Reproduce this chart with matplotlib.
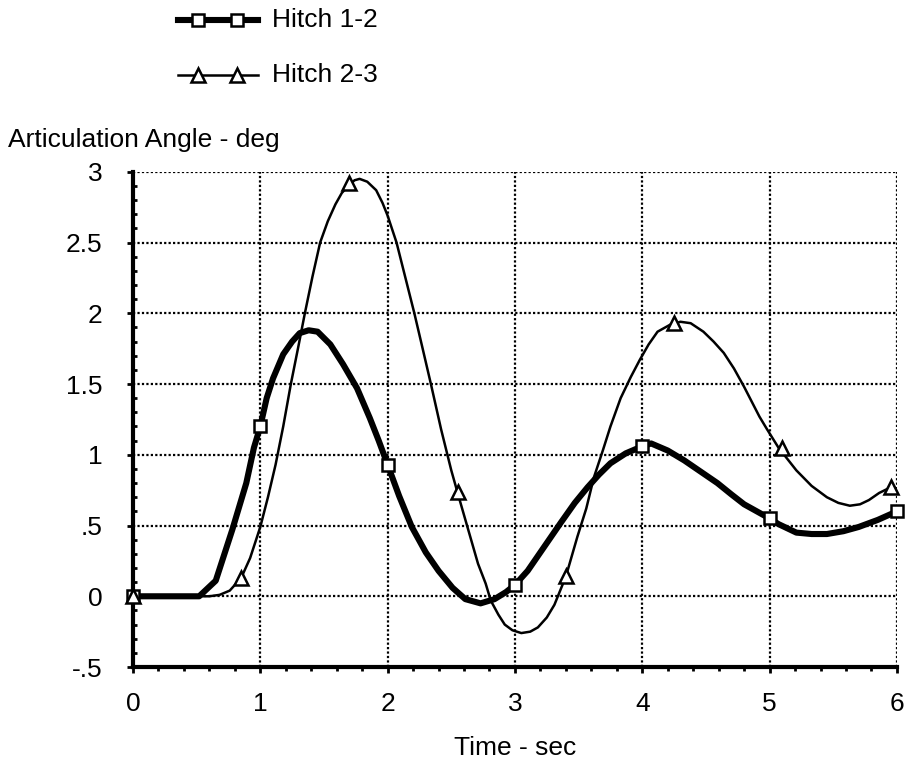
import matplotlib.pyplot as plt
from matplotlib.lines import Line2D
from matplotlib.ticker import MultipleLocator, FixedLocator, FixedFormatter

plt.rcParams['font.family'] = ['Liberation Sans', 'DejaVu Sans']

# Hitch 1-2: smooth response curve and the sampled marker points
t12 = [0, 0.2, 0.4, 0.52, 0.65, 0.78, 0.89, 0.95, 1.0, 1.05, 1.10, 1.18,
       1.25, 1.31, 1.38, 1.45, 1.55, 1.65, 1.76, 1.86, 1.93, 2.0, 2.09,
       2.19, 2.30, 2.40, 2.51, 2.61, 2.73, 2.84, 2.93, 3.0, 3.10, 3.23,
       3.36, 3.47, 3.57, 3.66, 3.75, 3.87, 4.0, 4.07, 4.20, 4.33, 4.46,
       4.59, 4.70, 4.80, 4.90, 5.0, 5.07, 5.21, 5.33, 5.45, 5.58, 5.70,
       5.85, 6.0]
a12 = [0, 0, 0, 0, 0.11, 0.47, 0.80, 1.05, 1.20, 1.40, 1.54, 1.71,
       1.80, 1.86, 1.88, 1.87, 1.78, 1.64, 1.47, 1.26, 1.10, 0.93, 0.71,
       0.49, 0.31, 0.18, 0.06, -0.02, -0.05, -0.02, 0.03, 0.08, 0.18, 0.35,
       0.52, 0.66, 0.77, 0.86, 0.94, 1.01, 1.06, 1.08, 1.03, 0.96, 0.88,
       0.80, 0.72, 0.65, 0.60, 0.55, 0.51, 0.45, 0.44, 0.44, 0.46, 0.49,
       0.54, 0.60]
t12_pts = [0, 1, 2, 3, 4, 5, 6]
a12_pts = [0, 1.2, 0.93, 0.08, 1.06, 0.55, 0.6]

# Hitch 2-3
t23 = [0, 0.3, 0.6, 0.68, 0.76, 0.85, 0.92, 1.0, 1.06, 1.12, 1.18, 1.24,
       1.30, 1.35, 1.41, 1.47, 1.53, 1.59, 1.64, 1.69, 1.74, 1.78, 1.84,
       1.91, 1.96, 2.0, 2.07, 2.14, 2.21, 2.27, 2.34, 2.42, 2.50, 2.55,
       2.63, 2.71, 2.77, 2.81, 2.87, 2.92, 2.98, 3.05, 3.12, 3.18, 3.25,
       3.31, 3.40, 3.49, 3.56, 3.62, 3.69, 3.75, 3.83, 3.91, 3.98, 4.05,
       4.12, 4.22, 4.30, 4.38, 4.48, 4.56, 4.64, 4.72, 4.80, 4.92, 4.98,
       5.07, 5.21, 5.33, 5.45, 5.54, 5.63, 5.71, 5.78, 5.86, 5.95]
a23 = [0, 0, 0, 0.01, 0.04, 0.13, 0.27, 0.49, 0.70, 0.93, 1.20, 1.50,
       1.77, 2.0, 2.26, 2.50, 2.65, 2.77, 2.85, 2.90, 2.94, 2.95, 2.93,
       2.87, 2.78, 2.69, 2.50, 2.25, 2.0, 1.77, 1.50, 1.18, 0.89, 0.73,
       0.48, 0.23, 0.09, -0.03, -0.13, -0.20, -0.24, -0.26, -0.25, -0.22, -0.15,
       -0.06, 0.14, 0.42, 0.62, 0.84, 1.03, 1.20, 1.40, 1.55, 1.67, 1.78,
       1.87, 1.92, 1.94, 1.93, 1.87, 1.80, 1.72, 1.61, 1.48, 1.27, 1.18,
       1.05, 0.89, 0.78, 0.70, 0.66, 0.64, 0.65, 0.68, 0.73, 0.77]
t23_pts = [0, 0.85, 1.7, 2.55, 3.4, 4.25, 5.1, 5.95]
a23_pts = [0, 0.13, 2.92, 0.74, 0.14, 1.93, 1.05, 0.77]

y_ticks = [-0.5, 0, 0.5, 1, 1.5, 2, 2.5, 3]
y_labels = ['-.5', '0', '.5', '1', '1.5', '2', '2.5', '3']
series_names = ['Hitch 1-2', 'Hitch 2-3']

fs = 19
thick, thin = 4.4, 1.8
sq = dict(marker='s', ms=8.5, mfc='white', mec='black', mew=1.8)
tri = dict(marker='^', ms=9.5, mfc='white', mec='black', mew=1.8)

fig = plt.figure(figsize=(9.07, 7.69), dpi=100)
ax = fig.add_axes([0.1466, 0.1326, 0.8423, 0.644])

ax.plot(t12, a12, color='black', lw=thick, solid_capstyle='round', zorder=3)
ax.plot(t23, a23, color='black', lw=thin, zorder=3)
ax.plot(t12_pts, a12_pts, ls='none', zorder=4, clip_on=False, **sq)
ax.plot(t23_pts, a23_pts, ls='none', zorder=4, clip_on=False, **tri)

ax.set_xlim(0, 6)
ax.set_ylim(-0.5, 3)
ax.xaxis.set_major_locator(MultipleLocator(1))
ax.xaxis.set_minor_locator(MultipleLocator(0.2))
ax.yaxis.set_major_locator(FixedLocator(y_ticks))
ax.yaxis.set_major_formatter(FixedFormatter(y_labels))
ax.yaxis.set_minor_locator(MultipleLocator(0.1))

ax.grid(True, which='major', color='black', ls=(0, (1, 1)), lw=1.6)
for s in ['top', 'right']:
    ax.spines[s].set_visible(False)
for s in ['left', 'bottom']:
    ax.spines[s].set_linewidth(3)
ax.tick_params(which='major', direction='out', length=4, width=2,
               labelsize=fs)
ax.tick_params(axis='y', which='major', pad=18)
ax.tick_params(axis='x', which='major', pad=14)
ax.tick_params(axis='y', which='minor', direction='in', length=3, width=2)
ax.tick_params(axis='x', which='minor', direction='out', length=3, width=2)

fig.text(515 / 907, 1 - 748 / 769, 'Time - sec', fontsize=fs,
         ha='center', va='center')
fig.text(0.009, 0.818, 'Articulation Angle - deg', fontsize=fs,
         ha='left', va='center')

# legend at the top: short line with two markers, then the name
for row, (name, lw, mk) in enumerate(zip(series_names, [thick, thin],
                                         [sq, tri])):
    y = 0.974 - row * 0.0715
    fig.add_artist(Line2D([0.196, 0.2845], [y, y], color='black', lw=lw,
                          transform=fig.transFigure))
    fig.add_artist(Line2D([0.2183, 0.2613], [y, y], ls='none',
                          transform=fig.transFigure, **mk))
    fig.text(0.2995, y, name, fontsize=fs, ha='left', va='center')

fig.savefig('out.png', dpi=100)
